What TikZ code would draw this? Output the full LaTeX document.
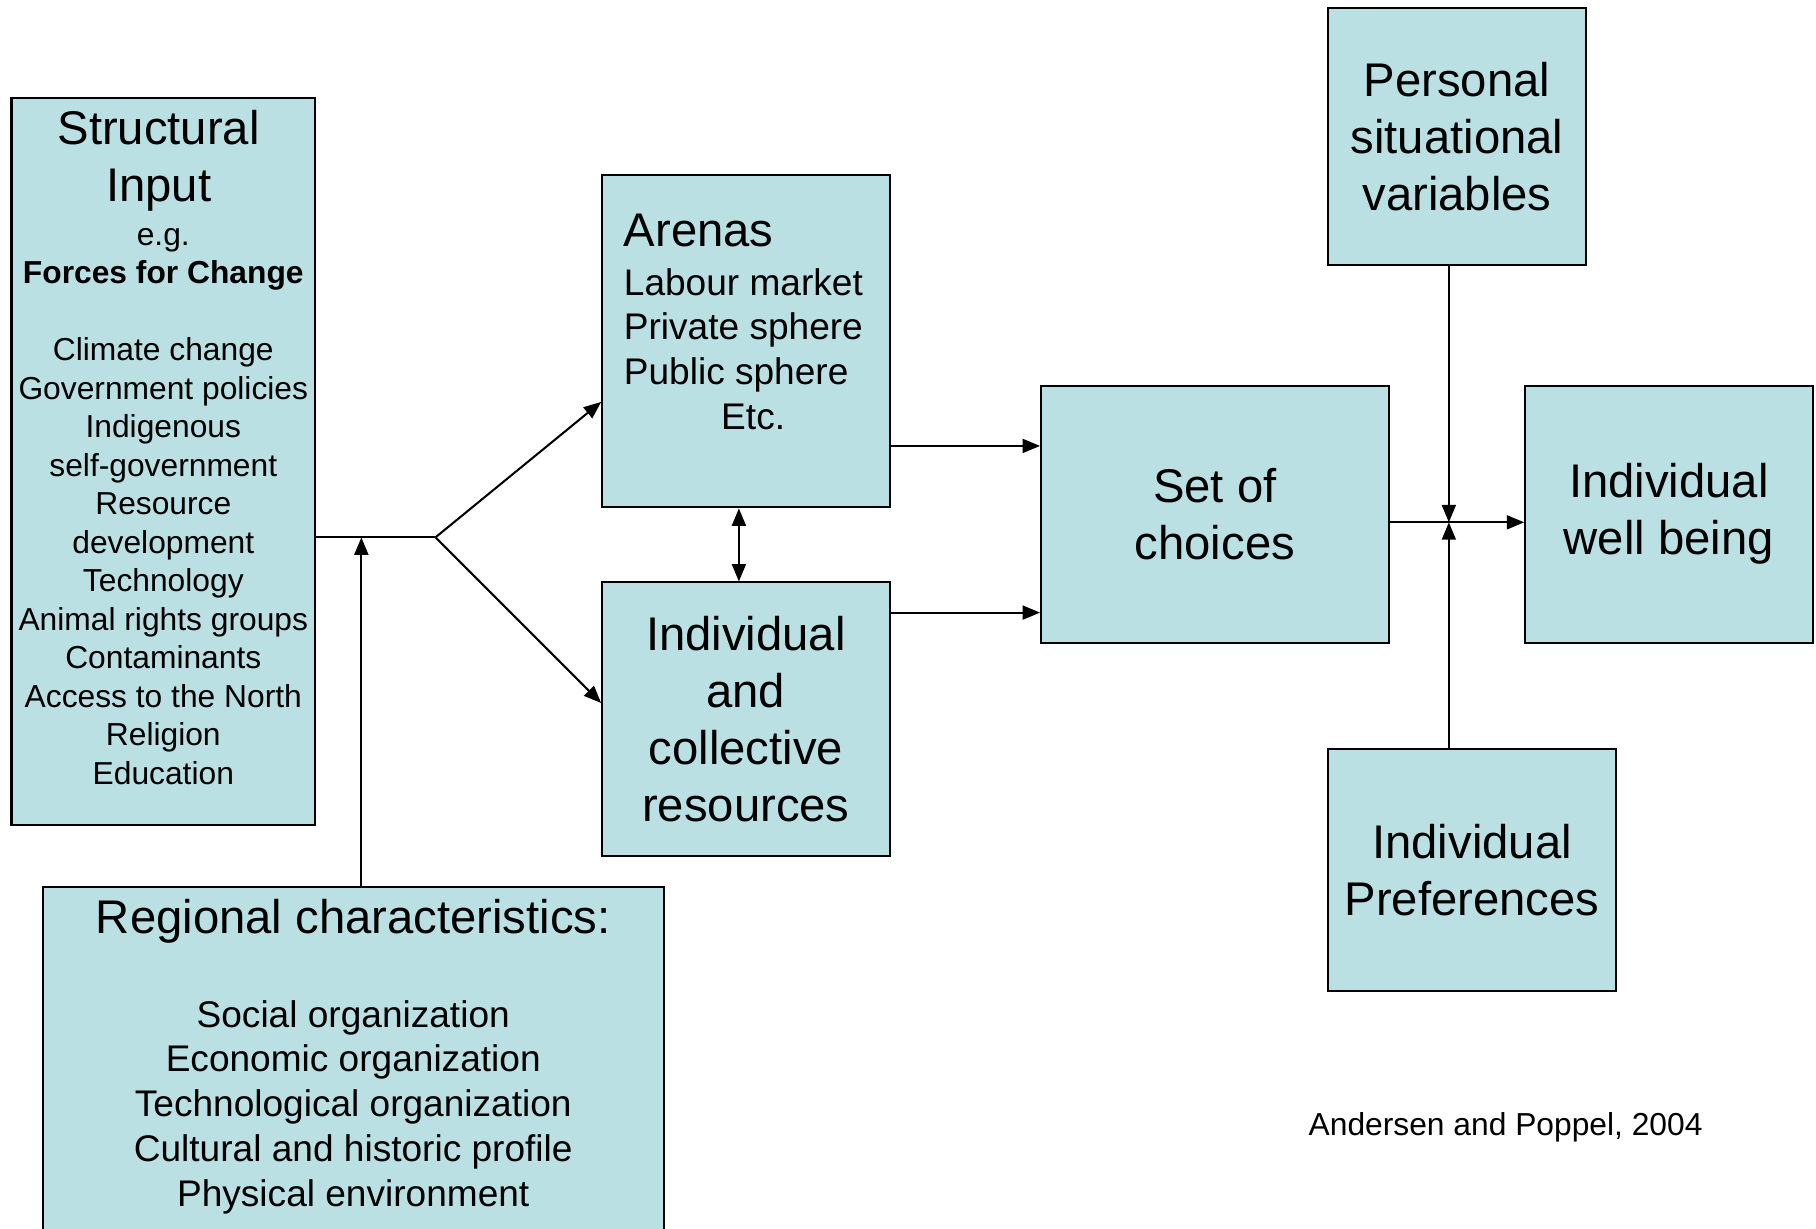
\documentclass[tikz,border=0pt]{standalone}
\usepackage{fontspec}
\setmainfont{Liberation Sans}
\usepackage{xcolor}
\usetikzlibrary{arrows.meta}
\definecolor{boxfill}{RGB}{187,224,227}

\begin{document}
\begin{tikzpicture}[x=0.01cm, y=-0.01cm,  box/.style={draw, fill=boxfill, line width=0.5pt, inner sep=0pt},  bigtxt/.style={font={\fontsize{11.6}{14}\selectfont}, align=center},  midtxt/.style={font={\fontsize{9.1}{11}\selectfont}},  smalltxt/.style={font={\fontsize{7.8}{9.45}\selectfont}},  arr/.style={-{Triangle[length=1.5mm,width=1.2mm]}, line width=0.5pt},  dblarr/.style={{Triangle[length=1.5mm,width=1.2mm]}-{Triangle[length=1.5mm,width=1.2mm]}, line width=0.5pt}]
  \useasboundingbox (0,0) rectangle (1568,1061);

  \node[box, minimum width=2.62cm, minimum height=6.27cm] (input) at (141,398.5) {};
  \node[bigtxt, anchor=north, inner sep=0pt] (input-t) at (137,90) {\strut Structural\\Input};
  \node[smalltxt, align=center, anchor=north, inner sep=0pt] (input-l) at (141,188) {\strut e.g.\\\textbf{Forces for Change}\\[9.45pt]Climate change\\Government policies\\Indigenous\\self-government\\Resource\\development\\Technology\\Animal rights groups\\Contaminants\\Access to the North\\Religion\\Education};

  \node[box, minimum width=2.48cm, minimum height=2.87cm] (arenas) at (644,294.5) {};
  \node[bigtxt, anchor=base west, inner sep=0pt] (arenas-t) at (538,213) {Arenas};
  \node[midtxt, align=left, anchor=north west, inner sep=0pt] (arenas-l) at (538,227) {\strut Labour market\\Private sphere\\Public sphere\\\hspace*{8.4mm}Etc.};

  \node[box, bigtxt, minimum width=2.48cm, minimum height=2.36cm] (res) at (644,621) {Individual\\and\\collective\\resources};
  \node[box, bigtxt, minimum width=3cm, minimum height=2.22cm] (set) at (1049,444) {Set of\\choices};
  \node[box, bigtxt, minimum width=2.22cm, minimum height=2.22cm] (pers) at (1258,118) {Personal\\situational\\variables};
  \node[box, bigtxt, minimum width=2.48cm, minimum height=2.22cm] (well) at (1441,444) {Individual\\well being};
  \node[box, bigtxt, minimum width=2.48cm, minimum height=2.09cm] (pref) at (1271,751.5) {Individual\\Preferences};

  \node[box, minimum width=5.36cm, minimum height=3.2cm, anchor=north] (reg) at (305,765) {};
  \node[bigtxt, anchor=base, inner sep=0pt] (reg-t) at (305,806) {Regional characteristics:};
  \node[midtxt, align=center, anchor=north, inner sep=0pt] (reg-l) at (305,859) {\strut Social organization\\Economic organization\\Technological organization\\Cultural and historic profile\\Physical environment};

  \node[smalltxt, inner sep=0pt] (src) at (1300,973) {Andersen and Poppel, 2004};

  \coordinate (split) at (376,464);
  \coordinate (meet) at (1251,451);
  \coordinate (a1) at ([yshift=-9.05mm]arenas.east);
  \coordinate (r1) at ([yshift=9.2mm]res.east);
  \coordinate (s1) at ([yshift=-0.7mm]set.east);
  \coordinate (g1) at ([xshift=0.7mm]reg.north);

  \draw[line width=0.5pt] (input.east |- split) -- (split);
  \draw[arr] (split) -- ([yshift=-5.25mm]arenas.west);
  \draw[arr] (split) -- ([yshift=1.4mm]res.west);
  \draw[arr] (g1) -- (g1 |- split);
  \draw[dblarr] ([xshift=-0.6mm]arenas.south) -- ([xshift=-0.6mm]res.north);
  \draw[arr] (a1) -- (a1 -| set.west);
  \draw[arr] (r1) -- (r1 -| set.west);
  \draw[arr] (s1) -- (s1 -| well.west);
  \draw[arr] (pers.south -| meet) -- (meet);
  \draw[arr] (pref.north -| meet) -- (meet);

\end{tikzpicture}
\end{document}
